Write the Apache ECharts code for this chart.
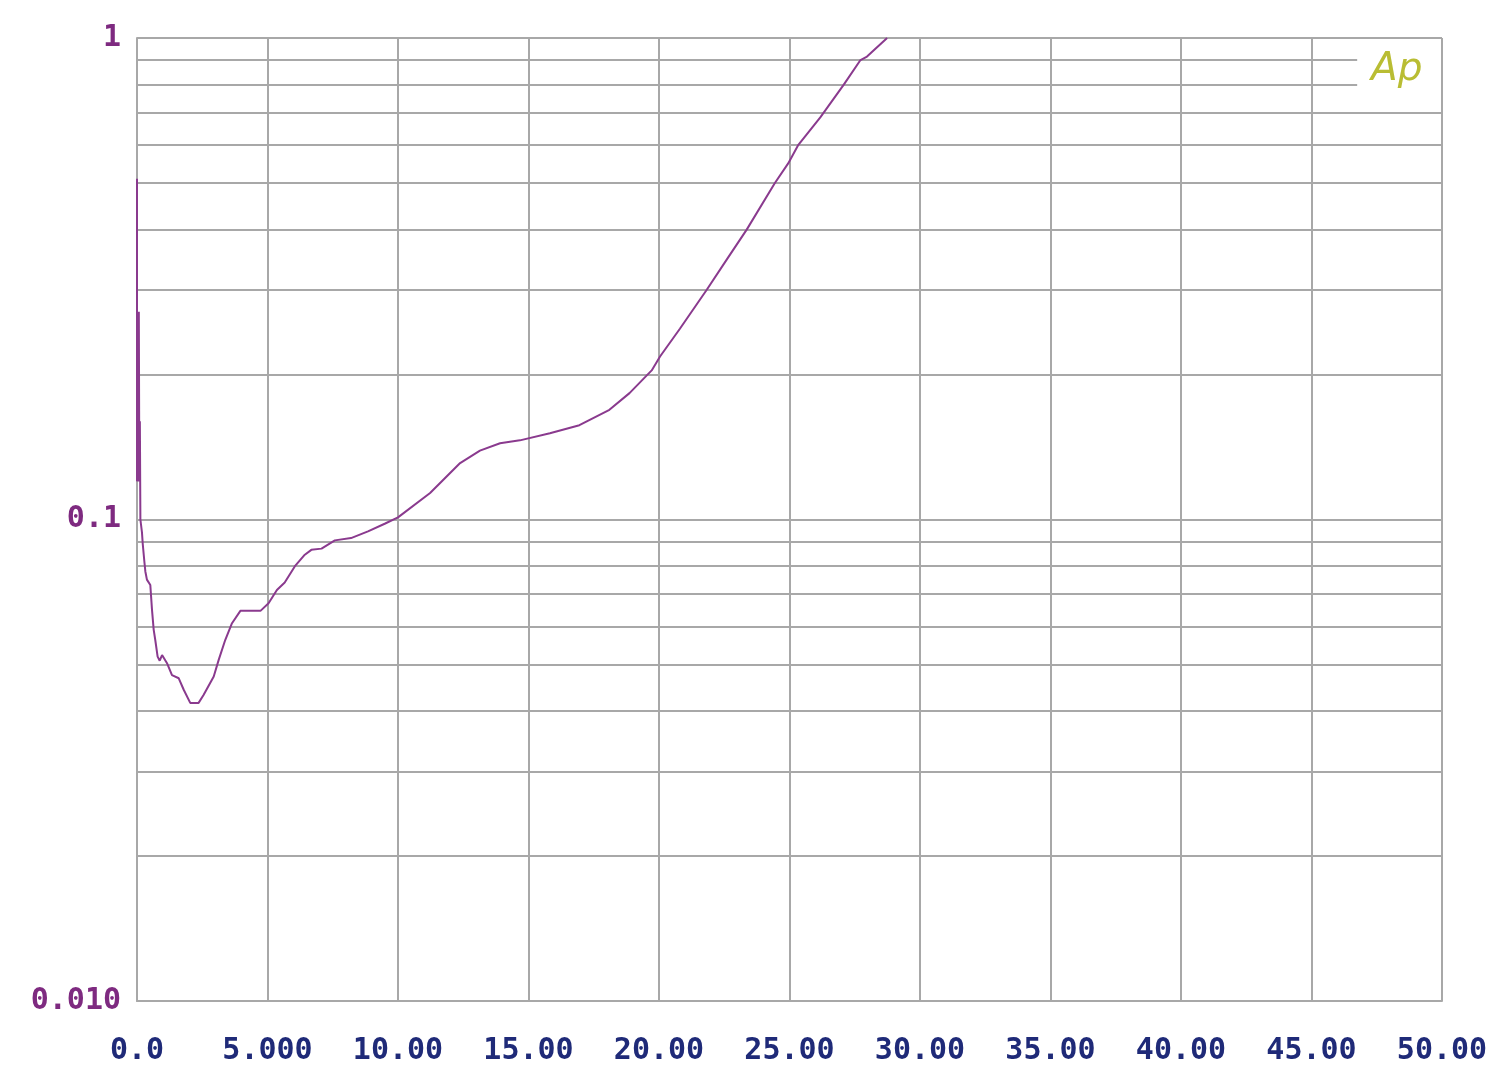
<!DOCTYPE html>
<html>
<head>
<meta charset="utf-8">
<script src="https://cdn.jsdelivr.net/npm/echarts@6/dist/echarts.min.js"></script>
<style>
html,body{margin:0;padding:0;background:#fff;}
#chart{width:1500px;height:1072px;}
</style>
</head>
<body>
<div id="chart"></div>
<script>
// Curve samples (x, y on log scale)
var xValues = [0, 0, 0.03, 0.05, 0.07, 0.09, 0.11, 0.13, 0.19, 0.22, 0.28, 0.32, 0.38, 0.51, 0.575, 0.64, 0.70, 0.79, 0.87, 0.96, 1.15, 1.34, 1.60, 1.79, 2.04, 2.36, 2.55, 2.94, 3.13, 3.38, 3.64, 3.96, 4.73, 5.04, 5.36, 5.66, 6.05, 6.43, 6.68, 7.07, 7.58, 8.20, 8.85, 9.49, 10.0, 11.23, 12.38, 13.14, 13.91, 14.67, 15.82, 16.95, 18.10, 18.87, 19.72, 20.04, 20.80, 21.83, 22.60, 23.36, 24.44, 24.95, 25.34, 26.18, 27.08, 27.72, 27.97, 28.74];
var yValues = [0.51, 0.12, 0.27, 0.12, 0.27, 0.12, 0.16, 0.10, 0.094, 0.089, 0.082, 0.078, 0.075, 0.0731, 0.0649, 0.059, 0.0562, 0.0519, 0.0509, 0.0523, 0.0503, 0.0475, 0.0468, 0.0443, 0.0416, 0.0416, 0.0432, 0.0472, 0.0511, 0.0562, 0.0609, 0.0646, 0.0646, 0.067, 0.0714, 0.074, 0.080, 0.0845, 0.0865, 0.087, 0.0905, 0.0915, 0.0945, 0.098, 0.101, 0.1135, 0.131, 0.139, 0.144, 0.146, 0.151, 0.157, 0.169, 0.183, 0.204, 0.218, 0.249, 0.300, 0.347, 0.400, 0.500, 0.549, 0.600, 0.684, 0.800, 0.900, 0.915, 1.0];
var xTickValues = [0, 5, 10, 15, 20, 25, 30, 35, 40, 45, 50];
var xTickLabels = ['0.0', '5.000', '10.00', '15.00', '20.00', '25.00', '30.00', '35.00', '40.00', '45.00', '50.00'];
var yDecadeValues = [0.01, 0.1, 1];
var yDecadeLabels = ['0.010', '0.1', '1'];
var yMinorGrid = [0.02, 0.03, 0.04, 0.05, 0.06, 0.07, 0.08, 0.09, 0.2, 0.3, 0.4, 0.5, 0.6, 0.7];
var yMinorGridShort = [0.8, 0.9]; // these stop before the "Ap" logo

var gridColor = '#a8a8a8';
var curveData = xValues.map(function (x, i) { return [x, yValues[i]]; });

var chart = echarts.init(document.getElementById('chart'), null, {renderer: 'canvas'});
chart.setOption({
  backgroundColor: '#ffffff',
  animation: false,
  grid: {left: 137, top: 38, right: 58, bottom: 71, show: false},
  xAxis: {
    type: 'value', min: 0, max: 50, interval: 5,
    axisLine: {show: true, lineStyle: {color: gridColor, width: 2}},
    axisTick: {show: false},
    splitLine: {show: true, lineStyle: {color: gridColor, width: 2}},
    axisLabel: {
      margin: 35,
      color: '#1f2a78',
      fontFamily: 'DejaVu Sans Mono',
      fontWeight: 'bold',
      fontSize: 30,
      formatter: function (v) {
        var i = xTickValues.indexOf(v);
        return i >= 0 ? xTickLabels[i] : '';
      }
    }
  },
  yAxis: {
    type: 'log', logBase: 10, min: 0.01, max: 1,
    axisLine: {show: true, lineStyle: {color: gridColor, width: 2}},
    axisTick: {show: false},
    splitLine: {show: true, lineStyle: {color: gridColor, width: 2}},
    axisLabel: {
      margin: 16,
      color: '#7e2a80',
      fontFamily: 'DejaVu Sans Mono',
      fontWeight: 'bold',
      fontSize: 30,
      formatter: function (v) {
        for (var i = 0; i < yDecadeValues.length; i++) {
          if (Math.abs(v - yDecadeValues[i]) < 1e-9) return yDecadeLabels[i];
        }
        return '';
      }
    }
  },
  series: [
    {
      type: 'line',
      data: curveData,
      showSymbol: false,
      symbol: 'none',
      clip: true,
      lineStyle: {color: '#8a3a8e', width: 2},
      z: 5,
      markLine: {
        silent: true,
        symbol: 'none',
        label: {show: false},
        lineStyle: {color: gridColor, width: 2, type: 'solid'},
        data: yMinorGrid.map(function (v) { return {yAxis: v}; }).concat(
          yMinorGridShort.map(function (v) {
            return [{coord: [0, v]}, {coord: [46.75, v]}];
          })
        ),
        z: 1
      }
    }
  ],
  graphic: [
    {
      type: 'text',
      left: 1371,
      top: 50,
      z: 10,
      style: {
        text: 'Ap',
        fill: '#b9bd33',
        font: 'italic 200 39px "DejaVu Sans ExtraLight", "DejaVu Sans"'
      }
    }
  ]
});
</script>
</body>
</html>
